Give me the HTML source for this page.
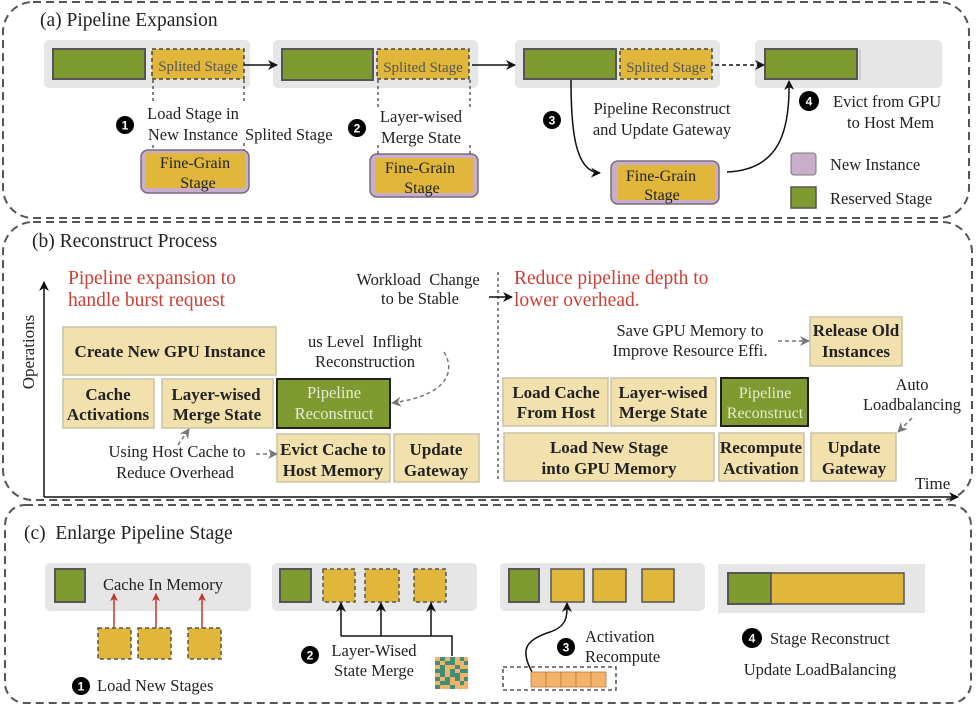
<!DOCTYPE html>
<html><head><meta charset="utf-8"><style>
html,body{margin:0;padding:0;background:#fff}
svg{display:block}
text{font-family:"Liberation Serif",serif;fill:#222}
.b{font-weight:bold;font-size:17px;text-anchor:middle}
.l{font-size:16px}
.c{text-anchor:middle}
.red{fill:#cc3f36;font-size:19.5px}
.t{font-size:19.5px}
.n{fill:#fff;font-family:"Liberation Sans",sans-serif;font-size:12px;font-weight:bold;text-anchor:middle}
</style></head><body>
<svg width="977" height="708" viewBox="0 0 977 708" xmlns="http://www.w3.org/2000/svg">
<defs>
<marker id="ah" markerWidth="10" markerHeight="10" refX="9" refY="5" orient="auto" markerUnits="userSpaceOnUse"><path d="M0,0 L10,5 L0,10 L3,5z" fill="#111"/></marker>
<marker id="ag" markerWidth="10" markerHeight="10" refX="9" refY="5" orient="auto" markerUnits="userSpaceOnUse"><path d="M0,0 L10,5 L0,10 L3,5z" fill="#777"/></marker>
<marker id="ar" markerWidth="8" markerHeight="8" refX="7" refY="4" orient="auto" markerUnits="userSpaceOnUse"><path d="M0,0 L8,4 L0,8 L2,4z" fill="#c0392b"/></marker>
</defs>
<g fill="none" stroke="#555" stroke-width="2" stroke-dasharray="8,5">
<rect x="3" y="2" width="966" height="216" rx="30"/>
<rect x="3" y="222" width="969" height="278" rx="30"/>
<rect x="5" y="505" width="966" height="198" rx="20"/>
</g>
<!-- (a) -->
<text x="40" y="26" class="t">(a) Pipeline Expansion</text>
<g fill="#e6e6e6"><rect x="44" y="40" width="206" height="48" rx="5"/><rect x="273" y="40" width="205" height="48" rx="5"/><rect x="515" y="40" width="205" height="48" rx="5"/><rect x="755" y="40" width="187" height="48" rx="5"/></g>
<g fill="#7f9a30" stroke="#555" stroke-width="2"><rect x="53" y="49" width="92" height="30"/><rect x="282" y="49" width="91" height="31"/><rect x="524" y="49" width="92" height="30"/><rect x="765" y="49" width="92" height="30"/></g>
<line x1="860" y1="49" x2="860" y2="80" stroke="#bbb"/>
<g fill="#e0b73a" stroke="#444" stroke-width="1.5" stroke-dasharray="4,3"><rect x="152" y="49" width="92" height="30"/><rect x="377" y="49" width="92" height="30"/><rect x="620" y="49" width="92" height="30"/></g>
<text x="198" y="71" class="c" style="fill:#555;font-size:15px">Splited Stage</text><text x="423" y="72" class="c" style="fill:#555;font-size:15px">Splited Stage</text><text x="666" y="72" class="c" style="fill:#555;font-size:15px">Splited Stage</text>
<line x1="244" y1="65" x2="277" y2="65" stroke="#111" stroke-width="1.5" marker-end="url(#ah)"/>
<line x1="472" y1="65" x2="515" y2="65" stroke="#111" stroke-width="1.5" marker-end="url(#ah)"/>
<line x1="715" y1="65" x2="764" y2="65" stroke="#111" stroke-width="1.5" stroke-dasharray="4,3" marker-end="url(#ah)"/>
<g stroke="#333" stroke-width="1.2" stroke-dasharray="3,3"><line x1="153" y1="80" x2="153" y2="104"/><line x1="244" y1="80" x2="244" y2="104"/><line x1="153" y1="145" x2="153" y2="153"/><line x1="244" y1="143" x2="244" y2="153"/>
<line x1="378" y1="80" x2="378" y2="108"/><line x1="470" y1="80" x2="470" y2="108"/><line x1="378" y1="145" x2="378" y2="156"/><line x1="470" y1="145" x2="470" y2="156"/></g>
<g fill="#c8aecb" stroke="#7a6a7a" stroke-width="1.5"><rect x="141" y="150" width="108" height="43" rx="7"/><rect x="370" y="154" width="108" height="43" rx="7"/><rect x="611" y="161" width="108" height="43" rx="7"/></g>
<g fill="#e0b73a"><rect x="146" y="153" width="99" height="35"/><rect x="375" y="158" width="99" height="35"/><rect x="618" y="165" width="98" height="35"/></g>
<g class="l"><text x="195" y="168" class="c">Fine-Grain</text><text x="198" y="188" class="c">Stage</text>
<text x="420" y="173" class="c">Fine-Grain</text><text x="422" y="193" class="c">Stage</text>
<text x="661" y="181" class="c">Fine-Grain</text><text x="662" y="200" class="c">Stage</text></g>
<g class="l" style="font-size:16.5px"><text x="193" y="119" class="c">Load Stage in</text><text x="193" y="140" class="c">New Instance</text><text x="245" y="140">Splited Stage</text>
<text x="421" y="122" class="c">Layer-wised</text><text x="421" y="143" class="c">Merge State</text>
<text x="662" y="114" class="c">Pipeline Reconstruct</text><text x="662" y="135" class="c">and Update Gateway</text>
<text x="833" y="107">Evict from GPU</text><text x="847" y="128">to Host Mem</text>
<text x="830" y="170">New Instance</text><text x="830" y="204">Reserved Stage</text></g>
<path d="M571,80 C571,130 575,172 600,173" fill="none" stroke="#111" stroke-width="1.5" marker-end="url(#ah)"/>
<path d="M727,172 C780,170 790,130 789,81" fill="none" stroke="#111" stroke-width="1.5" marker-end="url(#ah)"/>
<rect x="791" y="153" width="25" height="22" rx="3" fill="#c8aecb" stroke="#777"/>
<rect x="791" y="187" width="25" height="21" fill="#7f9a30" stroke="#555" stroke-width="1.5"/>
<circle cx="125" cy="125" r="9" fill="#000"/><text x="125" y="129.5" class="n">1</text>
<circle cx="357" cy="128" r="9" fill="#000"/><text x="357" y="132.5" class="n">2</text>
<circle cx="552" cy="120" r="9" fill="#000"/><text x="552" y="124.5" class="n">3</text>
<circle cx="809" cy="101" r="10" fill="#000"/><text x="809" y="105.5" class="n">4</text>
<!-- (b) -->
<text x="32" y="247" class="t">(b) Reconstruct Process</text>
<line x1="44" y1="497" x2="44" y2="282" stroke="#111" stroke-width="1.5" marker-end="url(#ah)"/>
<line x1="44" y1="497" x2="958" y2="497" stroke="#111" stroke-width="1.5" marker-end="url(#ah)"/>
<text transform="translate(34,352) rotate(-90)" class="c" style="font-size:17px">Operations</text>
<text x="915" y="489" style="font-size:17px">Time</text>
<text x="68" y="284" class="red">Pipeline expansion to</text>
<text x="68" y="306" class="red">handle burst request</text>
<text x="514" y="284" class="red">Reduce pipeline depth to</text>
<text x="514" y="306" class="red">lower overhead.</text>
<text x="418" y="285" class="c l" style="font-size:16.5px">Workload&#160; Change</text><text x="420" y="304" class="c l" style="font-size:16.5px">to be Stable</text>
<line x1="498" y1="272" x2="498" y2="482" stroke="#333" stroke-width="1.2" stroke-dasharray="3,3"/>
<line x1="489" y1="297" x2="512" y2="297" stroke="#111" stroke-width="1.5" marker-end="url(#ah)"/>
<g fill="#f2e1ad" stroke="#c9c2a6" stroke-width="1.5">
<rect x="63" y="327" width="213" height="48"/><rect x="63" y="379" width="91" height="49"/><rect x="162" y="379" width="111" height="49"/>
<rect x="277" y="434" width="113" height="48"/><rect x="394" y="434" width="85" height="48"/>
<rect x="503" y="378" width="105" height="48"/><rect x="611" y="378" width="105" height="48"/>
<rect x="504" y="433" width="210" height="48"/><rect x="719" y="433" width="85" height="48"/><rect x="811" y="433" width="85" height="48"/>
<rect x="810" y="317" width="92" height="49"/></g>
<g fill="#7f9a30" stroke="#222" stroke-width="2"><rect x="277" y="379" width="113" height="49"/><rect x="721" y="378" width="87" height="48"/></g>
<g class="b">
<text x="170" y="357">Create New GPU Instance</text>
<text x="108" y="400">Cache</text><text x="108" y="420">Activations</text>
<text x="216" y="400">Layer-wised</text><text x="217" y="420">Merge State</text>
<text x="333" y="455">Evict Cache to</text><text x="333" y="476">Host Memory</text>
<text x="436" y="455">Update</text><text x="436" y="476">Gateway</text>
<text x="556" y="398">Load Cache</text><text x="556" y="418">From Host</text>
<text x="663" y="398">Layer-wised</text><text x="663" y="418">Merge State</text>
<text x="609" y="453">Load New Stage</text><text x="609" y="474">into GPU Memory</text>
<text x="761" y="453">Recompute</text><text x="761" y="474">Activation</text>
<text x="854" y="453">Update</text><text x="854" y="474">Gateway</text>
<text x="856" y="336">Release Old</text><text x="856" y="357">Instances</text>
</g>
<text x="334" y="398" class="c" style="fill:#e6ecd0;font-size:16.5px">Pipeline</text><text x="334" y="419" class="c" style="fill:#e6ecd0;font-size:16.5px">Reconstruct</text>
<text x="765" y="398" class="c" style="fill:#e6ecd0;font-size:16px">Pipeline</text><text x="765" y="418" class="c" style="fill:#e6ecd0;font-size:16px">Reconstruct</text>
<g class="l" style="font-size:16.5px">
<text x="365" y="347" class="c">us Level&#160; Inflight</text><text x="365" y="367" class="c">Reconstruction</text>
<text x="177" y="457" class="c">Using Host Cache to</text><text x="175" y="478" class="c">Reduce Overhead</text>
<text x="690" y="336" class="c">Save GPU Memory to</text><text x="690" y="356" class="c">Improve Resource Effi.</text>
<text x="912" y="390" class="c">Auto</text><text x="912" y="410" class="c">Loadbalancing</text>
</g>
<g fill="none" stroke="#777" stroke-width="1.5" stroke-dasharray="4,3">
<path d="M444,352 C455,370 450,395 392,403" marker-end="url(#ag)"/>
<line x1="256" y1="454" x2="277" y2="454" marker-end="url(#ag)"/>
<line x1="178" y1="445" x2="189" y2="429" marker-end="url(#ag)"/>
<line x1="778" y1="341" x2="809" y2="341" marker-end="url(#ag)"/>
<line x1="912" y1="418" x2="898" y2="432" marker-end="url(#ag)"/>
</g>
<!-- (c) -->
<text x="24" y="539" class="t">(c)&#160; Enlarge Pipeline Stage</text>
<g fill="#e6e6e6"><rect x="45" y="563" width="206" height="48" rx="5"/><rect x="272" y="563" width="205" height="48" rx="5"/><rect x="500" y="563" width="205" height="48" rx="5"/><rect x="718" y="564" width="207" height="49"/></g>
<g fill="#7f9a30" stroke="#555" stroke-width="2"><rect x="55" y="569" width="30" height="33"/><rect x="280" y="569" width="31" height="33"/><rect x="509" y="569" width="30" height="33"/><rect x="728" y="573" width="43" height="31"/></g>
<g fill="#e0b73a" stroke="#555" stroke-width="1.5"><rect x="551" y="569" width="33" height="33"/><rect x="593" y="569" width="33" height="33"/><rect x="642" y="569" width="32" height="33"/><rect x="771" y="573" width="133" height="31"/></g>
<g fill="#e0b73a" stroke="#555" stroke-width="1.5" stroke-dasharray="4,3"><rect x="323" y="569" width="32" height="33"/><rect x="365" y="569" width="34" height="33"/><rect x="414" y="569" width="32" height="33"/>
<rect x="98" y="628" width="33" height="31"/><rect x="138" y="628" width="33" height="31"/><rect x="188" y="628" width="33" height="31"/></g>
<text x="163" y="590" class="c l" style="font-size:16.5px">Cache In Memory</text>
<g stroke="#c0392b" stroke-width="1.5"><line x1="114" y1="628" x2="114" y2="594" marker-end="url(#ar)"/><line x1="156" y1="628" x2="156" y2="594" marker-end="url(#ar)"/><line x1="202" y1="628" x2="202" y2="594" marker-end="url(#ar)"/></g>
<g stroke="#111" stroke-width="1.5" fill="none"><path d="M341,636 L452,636 L452,656"/>
<line x1="341" y1="636" x2="341" y2="603" marker-end="url(#ah)"/><line x1="381" y1="636" x2="381" y2="603" marker-end="url(#ah)"/><line x1="431" y1="636" x2="431" y2="603" marker-end="url(#ah)"/>
<path d="M532,672 C520,650 525,640 550,632 C568,626 567,615 567,603" marker-end="url(#ah)"/></g>
<rect x="435" y="657" width="33" height="32" fill="#f4b36a"/>
<g fill="#3f8f78">
<rect x="440" y="657" width="5" height="4"/><rect x="450" y="657" width="5" height="4"/><rect x="460" y="657" width="4" height="4"/>
<rect x="435" y="661" width="5" height="4"/><rect x="445" y="661" width="10" height="4"/><rect x="464" y="661" width="4" height="4"/>
<rect x="440" y="665" width="5" height="4"/><rect x="455" y="665" width="5" height="4"/>
<rect x="435" y="669" width="10" height="4"/><rect x="450" y="669" width="5" height="4"/><rect x="460" y="669" width="8" height="4"/>
<rect x="440" y="673" width="5" height="4"/><rect x="450" y="673" width="10" height="4"/>
<rect x="435" y="677" width="5" height="4"/><rect x="445" y="677" width="5" height="4"/><rect x="455" y="677" width="5" height="4"/><rect x="464" y="677" width="4" height="4"/>
<rect x="440" y="681" width="10" height="4"/><rect x="460" y="681" width="4" height="4"/>
<rect x="435" y="685" width="5" height="4"/><rect x="450" y="685" width="5" height="4"/></g>
<rect x="503" y="667" width="113" height="23" fill="none" stroke="#333" stroke-width="1.3" stroke-dasharray="4,3"/>
<g fill="#f4b36a" stroke="#b87a3a" stroke-width="0.8"><rect x="531" y="672" width="15" height="15"/><rect x="546" y="672" width="15" height="15"/><rect x="561" y="672" width="15" height="15"/><rect x="576" y="672" width="15" height="15"/><rect x="591" y="672" width="15" height="15"/></g>
<g class="l" style="font-size:16.5px">
<text x="97" y="691">Load New Stages</text>
<text x="374" y="656" class="c">Layer-Wised</text><text x="374" y="676" class="c">State Merge</text>
<text x="585" y="642">Activation</text><text x="585" y="662">Recompute</text>
<text x="770" y="644">Stage Reconstruct</text><text x="820" y="675" class="c">Update LoadBalancing</text>
</g>
<circle cx="81" cy="686" r="9" fill="#000"/><text x="81" y="690.5" class="n">1</text>
<circle cx="310" cy="655" r="9" fill="#000"/><text x="310" y="659.5" class="n">2</text>
<circle cx="566" cy="647" r="9" fill="#000"/><text x="566" y="651.5" class="n">3</text>
<circle cx="752" cy="638" r="10" fill="#000"/><text x="752" y="642.5" class="n">4</text>
</svg>
</body></html>
